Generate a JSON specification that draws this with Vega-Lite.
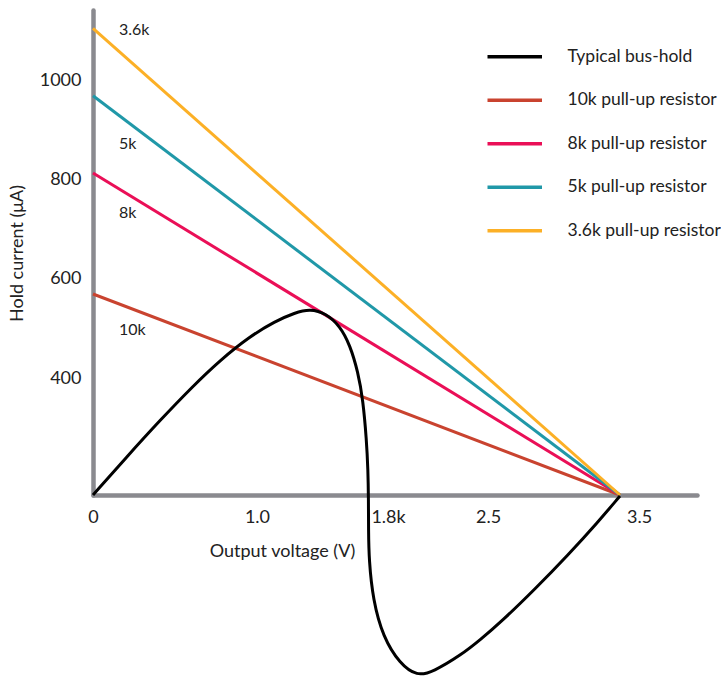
{
  "$schema": "https://vega.github.io/schema/vega-lite/v6.json",
  "width": 604,
  "height": 485,
  "autosize": {"type": "none"},
  "padding": {"left": 93, "top": 10, "right": 24, "bottom": 182},
  "config": {
    "view": {"stroke": null},
    "font": "Lato",
    "text": {"font": "Lato"}
  },
  "datasets": {
    "resistors": [
      {"series": "10k pull-up resistor", "v": 0, "i": 569.5},
      {"series": "10k pull-up resistor", "v": 3.49, "i": 165},
      {"series": "8k pull-up resistor", "v": 0, "i": 813},
      {"series": "8k pull-up resistor", "v": 3.49, "i": 165},
      {"series": "5k pull-up resistor", "v": 0, "i": 968.5},
      {"series": "5k pull-up resistor", "v": 3.49, "i": 165},
      {"series": "3.6k pull-up resistor", "v": 0, "i": 1104},
      {"series": "3.6k pull-up resistor", "v": 3.49, "i": 165}
    ],
    "bushold": [
      {"series": "Typical bus-hold", "ord": 1, "v": 0, "i": 165},
      {"series": "Typical bus-hold", "ord": 2, "v": 0.2185, "i": 240.1},
      {"series": "Typical bus-hold", "ord": 3, "v": 0.4437, "i": 315.3},
      {"series": "Typical bus-hold", "ord": 4, "v": 0.6623, "i": 384.3},
      {"series": "Typical bus-hold", "ord": 5, "v": 0.8411, "i": 436.1},
      {"series": "Typical bus-hold", "ord": 6, "v": 1.0397, "i": 484.4},
      {"series": "Typical bus-hold", "ord": 7, "v": 1.2053, "i": 514.5},
      {"series": "Typical bus-hold", "ord": 8, "v": 1.3377, "i": 531.8},
      {"series": "Typical bus-hold", "ord": 9, "v": 1.4371, "i": 539.5},
      {"series": "Typical bus-hold", "ord": 10, "v": 1.543, "i": 530.5},
      {"series": "Typical bus-hold", "ord": 11, "v": 1.6358, "i": 505.1},
      {"series": "Typical bus-hold", "ord": 12, "v": 1.702, "i": 466.8},
      {"series": "Typical bus-hold", "ord": 13, "v": 1.755, "i": 412.5},
      {"series": "Typical bus-hold", "ord": 14, "v": 1.7881, "i": 356.2},
      {"series": "Typical bus-hold", "ord": 15, "v": 1.8113, "i": 275.7},
      {"series": "Typical bus-hold", "ord": 16, "v": 1.8212, "i": 215.3},
      {"series": "Typical bus-hold", "ord": 17, "v": 1.8245, "i": 154.9},
      {"series": "Typical bus-hold", "ord": 18, "v": 1.8245, "i": 94.6},
      {"series": "Typical bus-hold", "ord": 19, "v": 1.8278, "i": 34.2},
      {"series": "Typical bus-hold", "ord": 20, "v": 1.8543, "i": -46.3},
      {"series": "Typical bus-hold", "ord": 21, "v": 1.9205, "i": -120.8},
      {"series": "Typical bus-hold", "ord": 22, "v": 2.0331, "i": -175.1},
      {"series": "Typical bus-hold", "ord": 23, "v": 2.1457, "i": -199.5},
      {"series": "Typical bus-hold", "ord": 24, "v": 2.2517, "i": -191},
      {"series": "Typical bus-hold", "ord": 25, "v": 2.4371, "i": -157},
      {"series": "Typical bus-hold", "ord": 26, "v": 2.5629, "i": -126.8},
      {"series": "Typical bus-hold", "ord": 27, "v": 2.7086, "i": -88.6},
      {"series": "Typical bus-hold", "ord": 28, "v": 2.9272, "i": -24.2},
      {"series": "Typical bus-hold", "ord": 29, "v": 3.1457, "i": 44.2},
      {"series": "Typical bus-hold", "ord": 30, "v": 3.3444, "i": 110.7},
      {"series": "Typical bus-hold", "ord": 31, "v": 3.49, "i": 163}
    ],
    "labels": [
      {"text": "3.6k", "v": 0.172, "i": 1100.8},
      {"text": "5k", "v": 0.172, "i": 871.3},
      {"text": "8k", "v": 0.172, "i": 732.5},
      {"text": "10k", "v": 0.172, "i": 497}
    ]
  },
  "layer": [
    {
      "data": {"name": "resistors"},
      "mark": {"type": "line", "strokeWidth": 3, "clip": false},
      "encoding": {
        "x": {
          "field": "v", "type": "quantitative",
          "scale": {"domain": [0, 4], "nice": false, "zero": false},
          "axis": {
            "values": [0, 1.086, 1.954, 2.616, 3.616],
            "labelExpr": "datum.value < 0.5 ? '0' : datum.value < 1.5 ? '1.0' : datum.value < 2.3 ? '1.8k' : datum.value < 3 ? '2.5' : '3.5'",
            "domainColor": "#8a8a8f",
            "domainWidth": 4.5,
            "domainCap": "round",
            "ticks": false,
            "grid": false,
            "labelPadding": 13,
            "labelFontSize": 18,
            "labelColor": "#222222",
            "labelFlush": false,
            "labelOverlap": false,
            "title": "Output voltage (V)",
            "titleFontSize": 18,
            "titleFontWeight": "normal",
            "titleColor": "#222222",
            "titleX": 189,
            "titleY": 56,
            "titleBaseline": "middle",
            "titleAlign": "center"
          }
        },
        "y": {
          "field": "i", "type": "quantitative",
          "scale": {"domain": [165, 1141], "nice": false, "zero": false},
          "axis": {
            "values": [400, 600, 800, 1000],
            "format": "d",
            "domainColor": "#8a8a8f",
            "domainWidth": 4.5,
            "domainCap": "round",
            "ticks": false,
            "grid": false,
            "labelPadding": 12,
            "labelFontSize": 18,
            "labelColor": "#222222",
            "title": "Hold current (μA)",
            "titleFontSize": 18,
            "titleFontWeight": "normal",
            "titleColor": "#222222",
            "titleX": -76,
            "titleY": 243,
            "titleAngle": 270,
            "titleBaseline": "middle",
            "titleAlign": "center"
          }
        },
        "color": {
          "field": "series", "type": "nominal",
          "scale": {
            "domain": ["Typical bus-hold", "10k pull-up resistor", "8k pull-up resistor", "5k pull-up resistor", "3.6k pull-up resistor"],
            "range": ["#000000", "#c9432f", "#ea0f57", "#2098a8", "#fcb026"]
          },
          "legend": {
            "title": null,
            "orient": "none",
            "legendX": 413,
            "legendY": 38,
            "padding": 0,
            "symbolType": "M-5.45,0H5.45",
            "symbolSize": 100,
            "symbolStrokeWidth": 3.5,
            "labelFontSize": 17.5,
            "labelColor": "#222222",
            "labelOffset": 44,
            "rowPadding": 24.5,
            "labelLimit": 300
          }
        }
      }
    },
    {
      "data": {"name": "bushold"},
      "mark": {"type": "line", "strokeWidth": 3, "interpolate": "basis", "clip": false},
      "encoding": {
        "x": {"field": "v", "type": "quantitative"},
        "y": {"field": "i", "type": "quantitative"},
        "order": {"field": "ord", "type": "quantitative"},
        "color": {"field": "series", "type": "nominal"}
      }
    },
    {
      "data": {"name": "labels"},
      "mark": {"type": "text", "align": "left", "baseline": "middle", "fontSize": 16, "color": "#222222"},
      "encoding": {
        "x": {"field": "v", "type": "quantitative"},
        "y": {"field": "i", "type": "quantitative"},
        "text": {"field": "text"}
      }
    }
  ]
}
